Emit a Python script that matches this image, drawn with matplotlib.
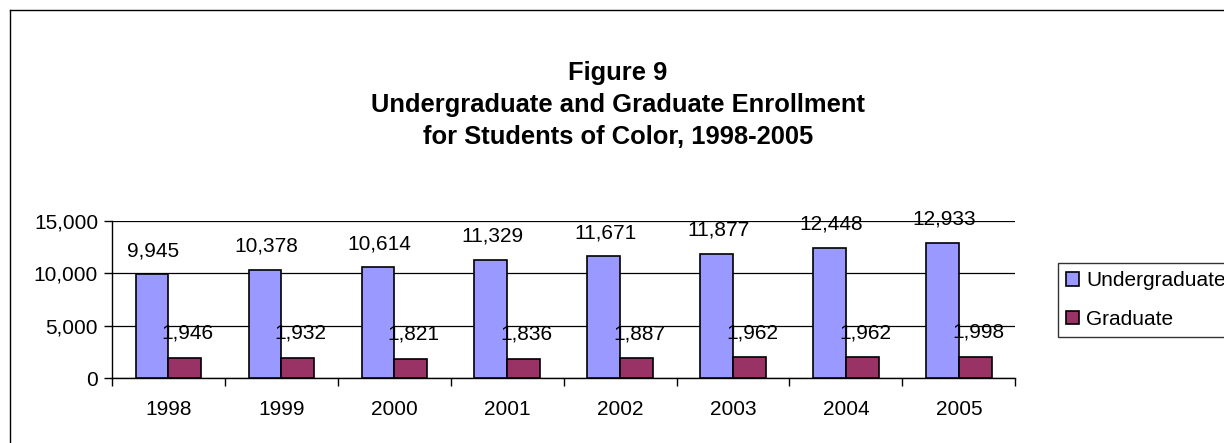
import numpy as np
import matplotlib.pyplot as plt
from matplotlib.lines import Line2D
from matplotlib.ticker import FuncFormatter

plt.rcParams['font.family'] = ['Liberation Sans', 'DejaVu Sans']

years = ['1998', '1999', '2000', '2001', '2002', '2003', '2004', '2005']
undergrad = [9945, 10378, 10614, 11329, 11671, 11877, 12448, 12933]
graduate = [1946, 1932, 1821, 1836, 1887, 1962, 1962, 1998]

fig = plt.figure(figsize=(12.24, 4.43), dpi=100)
ax = fig.add_axes([0.0915, 0.1467, 0.738, 0.354])

x = np.arange(len(years))
w = 0.29
b1 = ax.bar(x - w/2, undergrad, w, color='#9999FF', edgecolor='black', linewidth=1.2,
            label='Undergraduate', zorder=3)
b2 = ax.bar(x + w/2, graduate, w, color='#993366', edgecolor='black', linewidth=1.2,
            label='Graduate', zorder=3)

for xi, v in zip(x, undergrad):
    ax.annotate(f'{v:,}', (xi - w/2, v), xytext=(1, 10), textcoords='offset points',
                ha='center', va='bottom', fontsize=15, zorder=4)
for xi, v in zip(x, graduate):
    ax.annotate(f'{v:,}', (xi + w/2, v), xytext=(2, 11), textcoords='offset points',
                ha='center', va='bottom', fontsize=15, zorder=4)

ax.set_xlim(-0.5, len(years) - 0.5)
ax.set_ylim(0, 15000)
ax.set_yticks([0, 5000, 10000, 15000])
ax.yaxis.set_major_formatter(FuncFormatter(lambda v, p: f'{int(v):,}'))
ax.grid(axis='y', color='black', linewidth=0.9, zorder=0)

ax.set_xticks(x)
ax.set_xticklabels(years)
ax.set_xticks(np.arange(-0.5, len(years)), minor=True)
ax.tick_params(axis='x', which='major', length=0, pad=16, labelsize=15)
ax.tick_params(axis='x', which='minor', length=6, direction='out', width=1)
ax.tick_params(axis='y', length=6, width=1, direction='out', labelsize=15, pad=4)

for s in ['top', 'right']:
    ax.spines[s].set_visible(False)
ax.spines['left'].set_linewidth(1)
ax.spines['bottom'].set_linewidth(1)

fig.text(618/1224, 1 - 105/443,
         'Figure 9\nUndergraduate and Graduate Enrollment\nfor Students of Color, 1998-2005',
         ha='center', va='center', fontsize=18.4, fontweight='bold', linespacing=1.42)

leg = fig.legend(handles=[b1, b2], loc='upper left', bbox_to_anchor=(1058/1224, 1 - 263/443),
                 frameon=True, fancybox=False, edgecolor='black', fontsize=15,
                 handlelength=0.6, handleheight=0.6, handletextpad=0.35,
                 labelspacing=0.95, borderpad=0.4, borderaxespad=0)
leg.get_frame().set_linewidth(1)

# outer chart border
fig.add_artist(Line2D([10/1224, 10/1224], [0, 1 - 10/443], color='black', linewidth=1,
                      transform=fig.transFigure))
fig.add_artist(Line2D([10/1224, 1], [1 - 10/443, 1 - 10/443], color='black', linewidth=1,
                      transform=fig.transFigure))

fig.savefig('out.png', dpi=100)
